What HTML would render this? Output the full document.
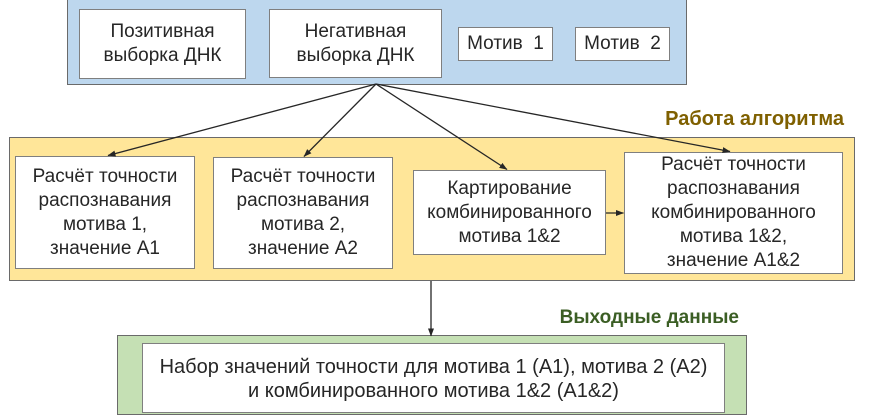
<!DOCTYPE html>
<html>
<head>
<meta charset="utf-8">
<style>
  html, body { margin:0; padding:0; }
  body { width:870px; height:400px; position:relative; overflow:hidden; background:#ffffff;
         font-family:"Liberation Sans", "Noto Sans CJK SC", Arial, sans-serif; color:#262626; }
  .grp { position:absolute; box-sizing:border-box; border:1.5px solid #6a6a6a; }
  .box { position:absolute; box-sizing:border-box; background:#ffffff; border:1px solid #7f7f7f;
         display:flex; align-items:center; justify-content:center; text-align:center;
         font-size:19px; line-height:24px; }
  .lbl { position:absolute; font-weight:bold; font-size:19px; line-height:20px; white-space:nowrap; text-align:right; }
  svg { position:absolute; left:0; top:0; }
</style>
</head>
<body>

<!-- Blue input group -->
<div class="grp" style="left:67px; top:-10px; width:620px; height:95px; background:#BDD7EE;"></div>
<div class="box" style="left:79px; top:9px; width:167px; height:70px;">Позитивная<br>выборка ДНК</div>
<div class="box" style="left:269px; top:9px; width:173px; height:69px;">Негативная<br>выборка ДНК</div>
<div class="box" style="left:458px; top:27px; width:95px; height:34px;">Мотив&nbsp;&nbsp;1</div>
<div class="box" style="left:575px; top:27px; width:95px; height:34px;">Мотив&nbsp;&nbsp;2</div>

<!-- Yellow algorithm group -->
<div class="lbl" style="left:600px; width:244px; top:109px; font-size:20px; color:#7F6000;">Работа алгоритма</div>
<div class="grp" style="left:9px; top:137px; width:846px; height:144px; background:#FFE699;"></div>
<div class="box" style="left:15px; top:156px; width:180px; height:113px;">Расчёт точности<br>распознавания<br>мотива 1,<br>значение А1</div>
<div class="box" style="left:213px; top:157px; width:180px; height:112px;">Расчёт точности<br>распознавания<br>мотива 2,<br>значение А2</div>
<div class="box" style="left:413px; top:170px; width:193px; height:85px;">Картирование<br>комбинированного<br>мотива 1&amp;2</div>
<div class="box" style="left:624px; top:152px; width:219px; height:122px;">Расчёт точности<br>распознавания<br>комбинированного<br>мотива 1&amp;2,<br>значение А1&amp;2</div>

<!-- Green output group -->
<div class="lbl" style="left:480px; width:259px; top:308px; color:#3B5E24;">Выходные данные</div>
<div class="grp" style="left:117px; top:335px; width:630px; height:80px; background:#C5E0B4;"></div>
<div class="box" style="left:142px; top:343px; width:583px; height:70px; align-items:flex-start; padding-top:11px; font-size:20px;">Набор значений точности для мотива 1 (А1), мотива 2 (А2)<br>и комбинированного мотива 1&amp;2 (А1&amp;2)</div>

<!-- Connectors -->
<svg width="870" height="400" viewBox="0 0 870 400">
  <defs>
    <marker id="ah" markerWidth="8" markerHeight="6" refX="7.5" refY="3" orient="auto" markerUnits="userSpaceOnUse">
      <path d="M0,0 L8,3 L0,6 z" fill="#262626"/>
    </marker>
  </defs>
  <g stroke="#262626" stroke-width="1.3" fill="none">
    <line x1="376" y1="84" x2="108" y2="155.5" marker-end="url(#ah)"/>
    <line x1="376" y1="84" x2="304" y2="156.5" marker-end="url(#ah)"/>
    <line x1="376" y1="84" x2="507" y2="169.5" marker-end="url(#ah)"/>
    <line x1="376" y1="84" x2="730" y2="151.5" marker-end="url(#ah)"/>
    <line x1="606" y1="213" x2="623.5" y2="213" marker-end="url(#ah)"/>
    <line x1="431" y1="281" x2="431" y2="336" marker-end="url(#ah)"/>
  </g>
</svg>

</body>
</html>
